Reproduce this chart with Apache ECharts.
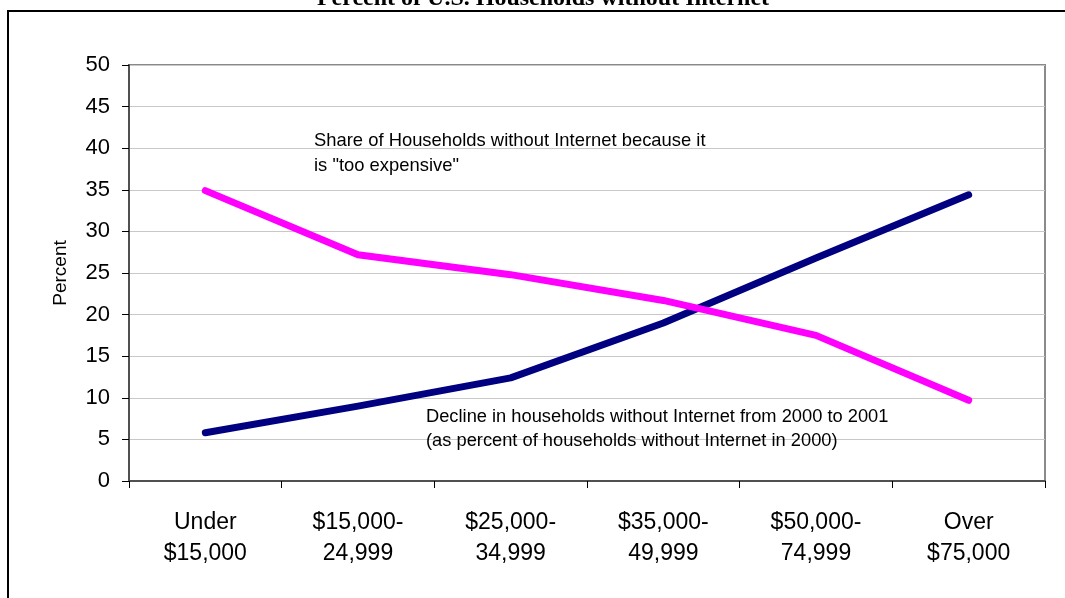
<!DOCTYPE html>
<html>
<head>
<meta charset="utf-8">
<script src="https://cdn.jsdelivr.net/npm/echarts@6/dist/echarts.min.js"></script>
<style>
html,body{margin:0;padding:0;background:#fff;}
#chart{width:1065px;height:598px;}
</style>
</head>
<body>
<div id="chart"></div>
<script>
const categories = ['Under\n$15,000', '$15,000-\n24,999', '$25,000-\n34,999', '$35,000-\n49,999', '$50,000-\n74,999', 'Over\n$75,000'];
const declineValues = [5.8, 9.0, 12.4, 19.0, 26.8, 34.4];
const tooExpensiveValues = [34.9, 27.2, 24.8, 21.7, 17.5, 9.7];
const titleText = 'Percent of U.S. Households without Internet';
const yAxisName = 'Percent';
const noteExpensive = ['Share of Households without Internet because it', 'is "too expensive"'];
const noteDecline = ['Decline in households without Internet from 2000 to 2001', '(as percent of households without Internet in 2000)'];

const chart = echarts.init(document.getElementById('chart'));
const font = 'Liberation Sans, Arial, sans-serif';
chart.setOption({
  animation: false,
  backgroundColor: '#fff',
  grid: { left: 129, right: 20, top: 65, bottom: 117, show: true, borderColor: '#8a8a8a', borderWidth: 2, backgroundColor: 'transparent' },
  xAxis: {
    type: 'category',
    data: categories,
    boundaryGap: true,
    axisLine: { lineStyle: { color: '#505050', width: 2 } },
    axisTick: { show: true, length: 7, lineStyle: { color: '#000', width: 1 } },
    axisLabel: { color: '#000', fontFamily: font, fontSize: 23, lineHeight: 31, margin: 26 }
  },
  yAxis: {
    type: 'value',
    min: 0, max: 50, interval: 5,
    name: yAxisName,
    nameLocation: 'middle',
    nameRotate: 90,
    nameGap: 59,
    nameTextStyle: { color: '#000', fontFamily: font, fontSize: 19 },
    axisLine: { show: true, lineStyle: { color: '#505050', width: 2 } },
    axisTick: { show: true, length: 7, lineStyle: { color: '#000', width: 1 } },
    axisLabel: { color: '#000', fontFamily: font, fontSize: 22, margin: 19, padding: [4, 0, 0, 0] },
    splitLine: { show: true, lineStyle: { color: '#c8c8c8', width: 1 } }
  },
  series: [
    {
      type: 'line', name: 'Decline', data: declineValues,
      symbol: 'none',
      lineStyle: { color: '#000080', width: 7, cap: 'round', join: 'round' },
      z: 3
    },
    {
      type: 'line', name: 'Too expensive', data: tooExpensiveValues,
      symbol: 'none',
      lineStyle: { color: '#ff00ff', width: 7, cap: 'round', join: 'round' },
      z: 4
    }
  ],
  graphic: [
    { type: 'rect', shape: { x: 8, y: 11, width: 1080, height: 620 }, style: { fill: 'none', stroke: '#000', lineWidth: 2 }, silent: true, z: 100 },
    { type: 'text', x: 543, y: 11, style: { text: titleText, fill: '#000', font: 'bold 24px "Liberation Serif", "Times New Roman", serif', textAlign: 'center', textVerticalAlign: 'bottom' }, z: 100 },
    { type: 'text', x: 314, y: 128, style: { text: noteExpensive.join('\n'), fill: '#000', font: '18.4px "Liberation Sans", Arial, sans-serif', lineHeight: 25, textAlign: 'left', textVerticalAlign: 'top' }, z: 100 },
    { type: 'text', x: 426, y: 405, style: { text: noteDecline.join('\n'), fill: '#000', font: '18.3px "Liberation Sans", Arial, sans-serif', lineHeight: 24, textAlign: 'left', textVerticalAlign: 'top' }, z: 100 }
  ]
});
</script>
</body>
</html>
